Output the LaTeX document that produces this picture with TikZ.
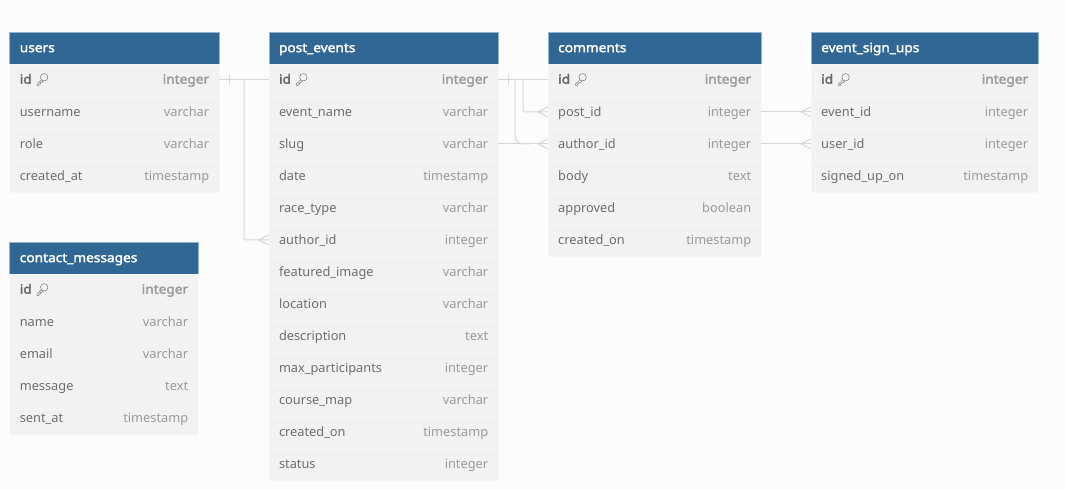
\documentclass[tikz,border=0pt]{standalone}
\usepackage{fontspec}
\setmainfont{Noto Sans}
\newfontfamily\boldish[FakeBold=2.2,FakeStretch=1.07]{Noto Sans}
\definecolor{hdr}{HTML}{306795}
\definecolor{hdredge}{HTML}{8FB3D0}
\definecolor{rowbg}{HTML}{F2F2F2}
\definecolor{rowsep}{HTML}{F6F6F6}
\definecolor{pagebg}{HTML}{FCFCFC}
\definecolor{fieldtxt}{HTML}{6E6E6E}
\definecolor{typetxt}{HTML}{9A9A9A}
\definecolor{keytxt}{HTML}{666666}
\definecolor{linkc}{HTML}{D6D6D6}
\newlength{\tw}
\newcommand{\keyicon}{\tikz[baseline=0pt,x=1pt,y=1pt,line width=.45pt]{\draw[fieldtxt] (7.4,6.4) circle [radius=3.7]; \draw[fieldtxt] (4.7,3.9) -- (0.2,-.4) -- (0.4,-1.6) -- (2.2,-1.6) -- (2.4,-.2) -- (3.6,-.2) -- (3.6,1) -- (5,1.2) -- (6.6,2.8);}}
\newcommand{\mktable}[5]{% name, title, x-left, y-top, width
  \node[hdrbox,minimum width=#5pt,anchor=north west] (#1) at (#3pt,-#4pt) {};
  \node[titletxt,anchor=base west] (#1-title) at ([xshift=10pt,yshift=-4pt]#1.west) {#2};
}
\newcommand{\mkrow}[4]{%
  \node[rowbox,minimum width=\the\tw,anchor=north west] (#1) at (#2.south west) {};
  \node[fieldlab,anchor=base west] (#1-f) at ([xshift=10pt,yshift=-4.4pt]#1.west) {#3};
  \node[typelab,anchor=base east] (#1-t) at ([xshift=-9.6pt,yshift=-4.4pt]#1.east) {#4};
}
\newcommand{\mkidrow}[2]{%
  \node[rowbox,minimum width=\the\tw,anchor=north west] (#1) at (#2.south west) {};
  \node[idlab,anchor=base west] (#1-f) at ([xshift=10pt,yshift=-3.8pt]#1.west) {id\hspace{5pt}\keyicon};
  \node[idtype,anchor=base east] (#1-t) at ([xshift=-9.6pt,yshift=-3.8pt]#1.east) {integer};
}
\tikzset{
  hdrbox/.style={rectangle,fill=hdr,draw=hdredge,line width=.4pt,minimum height=31.5pt,inner sep=0pt,outer sep=0pt},
  titletxt/.style={text=white,font=\fontsize{12.8}{14}\boldish,inner sep=0pt},
  rowbox/.style={rectangle,fill=rowbg,draw=rowsep,line width=.5pt,minimum height=32pt,inner sep=0pt,outer sep=0pt},
  fieldlab/.style={text=fieldtxt,font=\fontsize{12.8}{14}\selectfont,inner sep=0pt},
  typelab/.style={text=typetxt,font=\fontsize{12.8}{14}\selectfont,inner sep=0pt},
  idlab/.style={text=keytxt,font=\fontsize{12.8}{14}\boldish,inner sep=0pt},
  idtype/.style={text=typetxt,font=\fontsize{12.8}{14}\boldish,inner sep=0pt},
  link/.style={draw=linkc,line width=1pt},
}
\newcommand{\crow}[1]{%
  \draw[link] ([xshift=-10pt]#1.west) -- ([yshift=5pt]#1.west);
  \draw[link] ([xshift=-10pt]#1.west) -- ([yshift=-5pt]#1.west);
}
\begin{document}
\begin{tikzpicture}[x=1pt,y=1pt]
\useasboundingbox[fill=pagebg] (0,0) rectangle (1065,-489);

% users
\mktable{u}{users}{9.6}{32.4}{209.4}
\setlength{\tw}{209.4pt}
\mkidrow{u1}{u}
\mkrow{u2}{u1}{username}{varchar}
\mkrow{u3}{u2}{role}{varchar}
\mkrow{u4}{u3}{created\_at}{timestamp}

% contact_messages
\mktable{c}{contact\_messages}{9.6}{242.4}{188.4}
\setlength{\tw}{188.4pt}
\mkidrow{c1}{c}
\mkrow{c2}{c1}{name}{varchar}
\mkrow{c3}{c2}{email}{varchar}
\mkrow{c4}{c3}{message}{text}
\mkrow{c5}{c4}{sent\_at}{timestamp}

% post_events
\mktable{p}{post\_events}{268.8}{32.4}{229.2}
\setlength{\tw}{229.2pt}
\mkidrow{p1}{p}
\mkrow{p2}{p1}{event\_name}{varchar}
\mkrow{p3}{p2}{slug}{varchar}
\mkrow{p4}{p3}{date}{timestamp}
\mkrow{p5}{p4}{race\_type}{varchar}
\mkrow{p6}{p5}{author\_id}{integer}
\mkrow{p7}{p6}{featured\_image}{varchar}
\mkrow{p8}{p7}{location}{varchar}
\mkrow{p9}{p8}{description}{text}
\mkrow{p10}{p9}{max\_participants}{integer}
\mkrow{p11}{p10}{course\_map}{varchar}
\mkrow{p12}{p11}{created\_on}{timestamp}
\mkrow{p13}{p12}{status}{integer}

% comments
\mktable{m}{comments}{548}{32.4}{213}
\setlength{\tw}{213pt}
\mkidrow{m1}{m}
\mkrow{m2}{m1}{post\_id}{integer}
\mkrow{m3}{m2}{author\_id}{integer}
\mkrow{m4}{m3}{body}{text}
\mkrow{m5}{m4}{approved}{boolean}
\mkrow{m6}{m5}{created\_on}{timestamp}

% event_sign_ups
\mktable{e}{event\_sign\_ups}{811}{32.4}{227}
\setlength{\tw}{227pt}
\mkidrow{e1}{e}
\mkrow{e2}{e1}{event\_id}{integer}
\mkrow{e3}{e2}{user\_id}{integer}
\mkrow{e4}{e3}{signed\_up\_on}{timestamp}

% connectors
\draw[link] (u1.east) -- (p1.west);
\draw[link] ([xshift=10pt,yshift=5pt]u1.east) -- ([xshift=10pt,yshift=-5pt]u1.east);
\draw[link,rounded corners=1.5pt] ([xshift=25pt]u1.east) |- (p6.west);
\crow{p6}

\draw[link] (p1.east) -- (m1.west);
\draw[link] ([xshift=10pt,yshift=5pt]p1.east) -- ([xshift=10pt,yshift=-5pt]p1.east);
\draw[link,rounded corners=1.5pt] ([xshift=25pt]p1.east) |- (m2.west);
\crow{m2}
\draw[link] (p3.east) -- (m3.west);
\draw[link,rounded corners=8pt] ([xshift=17pt]p1.east) |- ([xshift=-18pt]m3.west);
\crow{m3}

\draw[link] (m2.east) -- (e2.west);
\crow{e2}
\draw[link] (m3.east) -- (e3.west);
\crow{e3}
\end{tikzpicture}
\end{document}
